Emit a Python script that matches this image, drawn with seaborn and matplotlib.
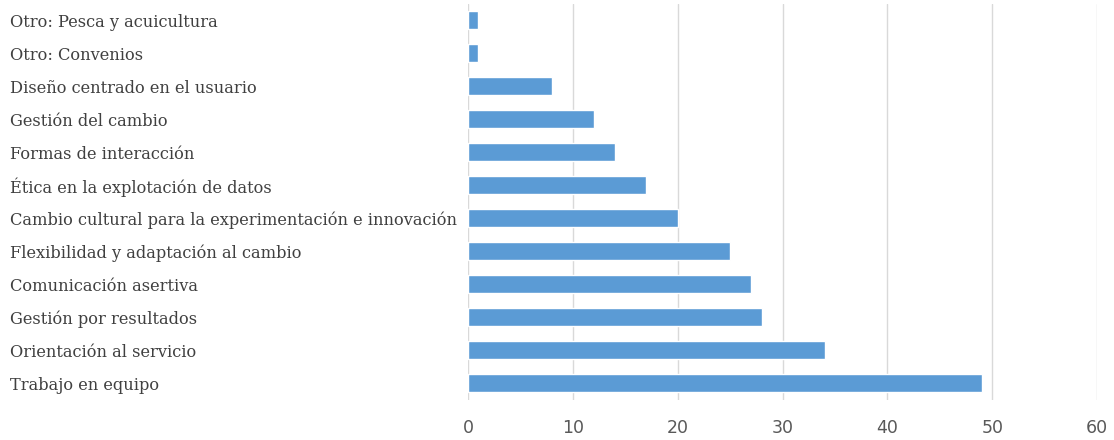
import matplotlib
matplotlib.use("Agg")
import matplotlib.pyplot as plt
import seaborn as sns
import pandas as pd

categories = [
    "Otro: Pesca y acuicultura",
    "Otro: Convenios",
    "Diseño centrado en el usuario",
    "Gestión del cambio",
    "Formas de interacción",
    "Ética en la explotación de datos",
    "Cambio cultural para la experimentación e innovación",
    "Flexibilidad y adaptación al cambio",
    "Comunicación asertiva",
    "Gestión por resultados",
    "Orientación al servicio",
    "Trabajo en equipo",
]
values = [1, 1, 8, 12, 14, 17, 20, 25, 27, 28, 34, 49]
x_ticks = [0, 10, 20, 30, 40, 50, 60]

df = pd.DataFrame({"cat": categories, "val": values})

sns.set_theme(style="white")
fig = plt.figure(figsize=(11.14, 4.4), dpi=100)
ax = fig.add_axes([0.420, 0.092, 0.565, 0.900])

sns.barplot(data=df, y="cat", x="val", orient="h", color="#5B9BD5",
            saturation=1, width=0.53, ax=ax)

ax.set_xlim(0, 60)
ax.set_xticks(x_ticks)
ax.set_xticklabels([str(t) for t in x_ticks], fontsize=12.5, color="#595959",
                   family="DejaVu Sans")
ax.xaxis.grid(True, color="#D9D9D9", linewidth=1)
ax.set_axisbelow(True)
for s in ax.spines.values():
    s.set_visible(False)
ax.set_xlabel("")
ax.set_ylabel("")
ax.tick_params(axis="x", length=0, pad=14)
ax.tick_params(axis="y", length=0, pad=329.8)
for lbl in ax.get_yticklabels():
    lbl.set_horizontalalignment("left")
    lbl.set_fontfamily("DejaVu Serif")
    lbl.set_fontsize(11.7)
    lbl.set_color("#404040")

fig.savefig("out.png", dpi=100)
